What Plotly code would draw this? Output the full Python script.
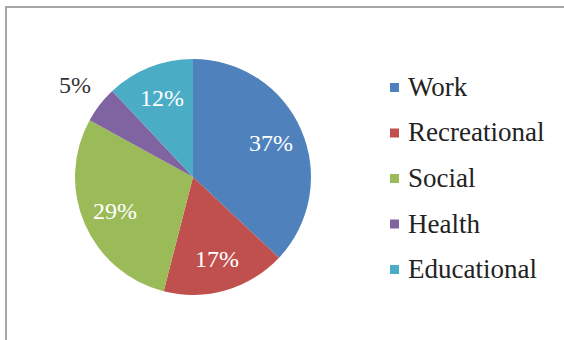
import math
import plotly.graph_objects as go

# Share of trips by purpose
labels = ["Work", "Recreational", "Social", "Health", "Educational"]
values = [37, 17, 29, 5, 12]
colors = ["#4F81BD", "#C0504D", "#9BBB59", "#8064A2", "#4BACC6"]
label_inside = [True, True, True, False, True]

W, H = 564, 340
SERIF = "Liberation Serif"


def px(x):
    return x / W


def py(y):
    return 1 - y / H


# pie centred at (193, 177) px with a 118 px radius
cx, cy, r = 193, 177, 118

fig = go.Figure(
    go.Pie(
        labels=labels,
        values=values,
        sort=False,
        direction="clockwise",
        rotation=0,
        marker=dict(colors=colors, line=dict(width=0)),
        textinfo="none",
        domain=dict(x=[px(cx - r), px(cx + r)], y=[py(cy + r), py(cy - r)]),
        showlegend=False,
        hoverinfo="label+percent",
    )
)

shapes = [
    # chart frame (continues past the right and bottom edges)
    dict(type="rect", xref="paper", yref="paper",
         x0=px(6), x1=px(620), y0=py(400), y1=py(7),
         line=dict(color="#a6a6a6", width=2), fillcolor="rgba(0,0,0,0)"),
]
annotations = []

# percentage labels placed along each slice's mid angle
total = sum(values)
cum = 0
for v, inside in zip(values, label_inside):
    theta = 2 * math.pi * (cum + v / 2) / total
    cum += v
    rf = 0.72 if inside else 1.27
    lx = cx + rf * r * math.sin(theta)
    ly = cy - rf * r * math.cos(theta)
    annotations.append(dict(
        text=f"{round(100 * v / total)}%", xref="paper", yref="paper",
        x=px(lx), y=py(ly), xanchor="center", yanchor="middle", showarrow=False,
        font=dict(family=SERIF, size=24, color="white" if inside else "#333333"),
    ))

# legend: colour swatch + label, one row per category
row_top, row_gap = 87, 45.5
for i, (lab, col) in enumerate(zip(labels, colors)):
    yc = row_top + i * row_gap
    shapes.append(dict(type="rect", xref="paper", yref="paper",
                       x0=px(390), x1=px(399), y0=py(yc + 5), y1=py(yc - 4),
                       line=dict(width=0), fillcolor=col))
    annotations.append(dict(text=lab, xref="paper", yref="paper",
                            x=px(406), y=py(yc), xanchor="left", yanchor="middle",
                            showarrow=False,
                            font=dict(family=SERIF, size=27, color="#222222")))

fig.update_layout(
    width=W, height=H,
    margin=dict(l=0, r=0, t=0, b=0),
    paper_bgcolor="white",
    plot_bgcolor="white",
    shapes=shapes,
    annotations=annotations,
)

fig.write_html("out.html")
